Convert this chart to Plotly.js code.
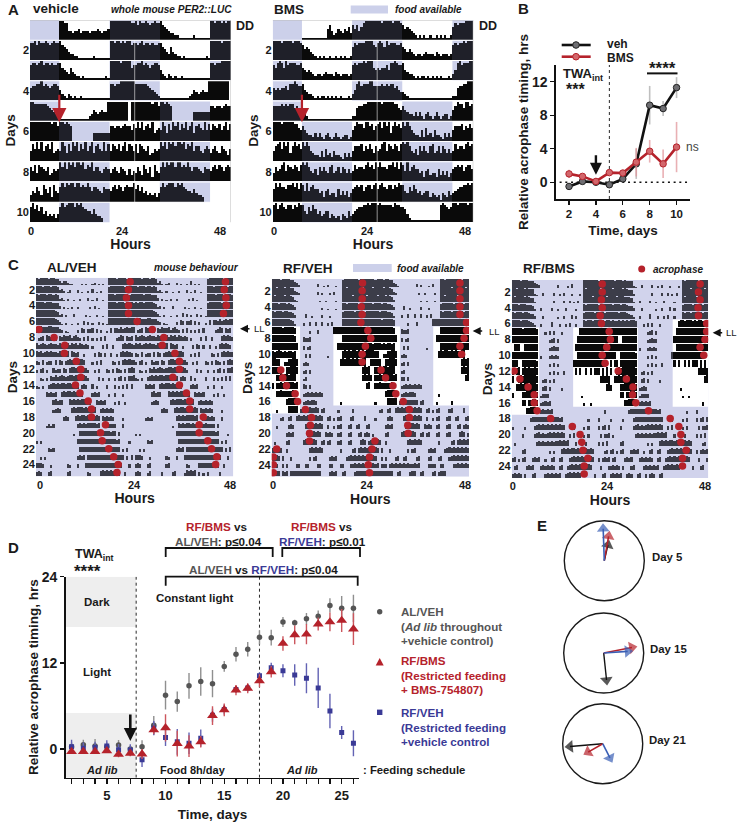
<!DOCTYPE html>
<html><head><meta charset="utf-8">
<script src="https://cdn.plot.ly/plotly-3.0.1.min.js"></script>
<style>html,body{margin:0;padding:0;background:#fff}#g{width:739px;height:822px}</style>
</head><body><div id="g"></div>
<script>
// ---------- Activity per day, one digit per half hour (0 = none, 9 = full row) ----------
const vehDays = [
"00000000000000998844344534443444543445"+"9999999999",
"8897988987898897654332211"+"1111121111111"+"9989989899",
"7887897887877886543643221"+"2111111111121"+"9999989999",
"6778897876788753213212112"+"1111111111111"+"8878899999",
"9988888876543211111111111"+"11123"+"5434544"+"9999999999",
"99999999998997998987"+"0000000000"+"44444444"+"7767767877",
"58696957869456"+"597485979586957947865958"+"5876857958",
"75848765734656"+"979698979989687957754676"+"4675476536",
"35475386472854"+"797989979978797577654766"+"5786875787",
"79685745343424"+"797899979897655464332"+"0000000000000",
"0"];
const bmsDays = [
"00000000000000"+"111111111111"+"574235435463"+"7574689999",
"99998999989998"+"7565432"+"12121121121212112"+"6878889999",
"76898697888778"+"6545432"+"33234333243233323"+"7878898999",
"65656675889877"+"8543321"+"21221212121211121"+"3589788899",
"77778787886754"+"4321111"+"11111111111111111"+"2267788999",
"99998999998865"+"7543324"+"24213421242123312"+"5798869978",
"57896979479786"+"9797543"+"32526342533214242"+"5777857686",
"47568958768758"+"9897546"+"37575478457476464"+"5867768978",
"69797768897969"+"8595786"+"64525634426353524"+"6787857886",
"89689768868798"+"8547586"+"45345524323143253"+"4567788989",
"99898888879887"+"764211111111111111898767"+"9989999899"];
const alVehDays = [
"98999989987"+"4344321"+"00002010023020100"+"9999899998999",
"99989998998"+"3420130"+"00301002040102000"+"8999999989999",
"98999899897"+"2310200"+"10020003010300100"+"9998999999899",
"99998999887"+"3020102"+"00200000203010000"+"9999899989998",
"98998999976"+"2302000"+"30000020100200100"+"8999999899999",
"98999899875"+"3102001"+"00200403020030201"+"9899999989998",
"78877688766"+"4302100"+"00305404450403002"+"0505546457566",
"03450654540"+"5465563"+"56430405030304050"+"0000346505450",
"64565456554"+"6565646"+"56465454030000405"+"0040000565654",
"65645656554"+"6564606"+"54500300004054040"+"0400305656540",
"43050344050"+"5404565"+"66566500030405000"+"0043040565655",
"30450300534"+"4054056"+"65664553003040004"+"3040543040565",
"00320305464"+"5654566"+"56665653000040300"+"3003045040556",
"32030045656"+"5665665"+"56504540050300004"+"0004030405050",
"00000"+"54545"+"00"+"56566565656"+"0000"+"4545"+"0000300"+"4000300000",
"00000000"+"56455"+"000"+"65656566565"+"00"+"54545"+"0000"+"3040030000",
"00000000"+"34540"+"0000"+"565666565656"+"00"+"4545454"+"0000000000",
"0000000000000"+"454"+"000"+"565665656565"+"0"+"545454"+"0000300000",
"00000"+"3434"+"00000000000"+"56565666656"+"00"+"545454"+"000400000",
"000000000000000000300"+"656566565656565455"+"040000000",
"30300000000000000000"+"565656565656665656545"+"0000300",
"000000434000000000000"+"56565665656565656565"+"0304000",
"00303000000000000000"+"45450"+"56565656566565656"+"604050",
"565400030000000430004000"+"5665656665656565"+"56000400",
"4540"+"004500"+"00000"+"450000"+"0000"+"43"+"0000"+"56565656"+"040040000",
"454000350000040000450000365656040304000004000000"];
const rfVehDays = [
"99998999987"+"5420000"+"0000300102000100"+"89999999899999",
"99899989987"+"4310000"+"0000302000103000"+"99899999998999",
"98999989976"+"3200000"+"0000010020000200"+"99999899999989",
"99989998986"+"3000000"+"0000002001000100"+"99899999899999",
"98999899875"+"3000040"+"0200003000200000"+"89999989999899",
"99998999875"+"2000300"+"4004004003040000"+"98999899999899",
"89889798989700"+"0000300040000000"+"998999899989899889",
"9898889989870"+"0054450"+"00000000000000"+"89898998989899",
"98998989899890"+"040340"+"000000000000"+"8989899898989889",
"87898787887800"+"004040"+"0000000200000"+"089898998989899",
"99880044889980"+"034300"+"0000000000000"+"898998989889900",
"88888008899980"+"034040"+"000000000000000000000000"+"8989",
"00889899899900"+"034000"+"00000000000000000000"+"00008989",
"80889899999890"+"054040"+"0000000000000000000000000089",
"00889888889800"+"034545"+"454540"+"0000000000000000000000",
"00000008999980"+"034545"+"540000"+"0000000300000000000000",
"00300000999990"+"456565"+"565045"+"0000003000000400000000",
"00003400450056"+"565656"+"565650"+"0450304500004500000500",
"00300000454000"+"005656"+"565650"+"0400304500045004500045",
"00000004545000"+"000565"+"656500"+"5454004500045000450454",
"03000004500000"+"056565"+"650045"+"0450004500045000056504",
"56565004000000"+"000056"+"565650"+"0000000400000450565656",
"65650500040000"+"000040"+"450000"+"0045450000456565656565",
"56500404000045"+"004500"+"004500"+"0045000450004565656565",
"56560545056565"+"656565"+"565600"+"0045450045000045656565",
"56565656565004"+"500004"+"550045"+"0000450456500000000000"];
const rfBmsDays = [
"99998999877"+"5430000"+"0000300002040000"+"09999999899999",
"99899989887"+"2100300"+"0030020300020002"+"09899999989999",
"98999989866"+"2000000"+"0030000300302030"+"09999899999989",
"99989998875"+"2003000"+"0300200030000200"+"09899999899999",
"98999899865"+"3000300"+"0000200300040300"+"08999989999899",
"99998999854"+"2003000"+"0500030030400300"+"09899899999899",
"89889798989970"+"00304040"+"00300000"+"000899899989899889",
"99898998988980"+"00003450"+"40000000"+"008989989898998989",
"08890089899980"+"00003454"+"40000000"+"089898989898989989",
"89888998889880"+"30003434"+"30000000"+"008989898989899899",
"89900888999970"+"00003040"+"30000000"+"898989898989889900",
"80890898988980"+"00003040"+"30040000"+"080800808088808090",
"80089899999980"+"03403040"+"00000000"+"000000000000089898",
"00889899899980"+"04504000"+"00300000"+"000000000000000089",
"60000889999980"+"34540000"+"00000000"+"000030000000000000",
"00000880889980"+"34545000"+"00000000"+"000003003000000000",
"00000008899980"+"45454500"+"00000000"+"000000000000000400",
"00000000045656"+"56565656"+"54500000"+"000000030000400000",
"30000030000456"+"56565656"+"56550004"+"500003040000404505",
"00000400000456"+"45456565"+"65650040"+"500403040000040445",
"03000000000045"+"45454545"+"56565600"+"040030400000404050",
"00000450000000"+"00003030"+"00565656"+"656565656500000340",
"45030450004545"+"00300450"+"04500045"+"656565656500404545",
"04500004545000"+"45454540"+"04500456"+"565656565000040004",
"45454040004500"+"00454545"+"45004565"+"656500000040004500",
"45454500454004"+"50040454"+"00450000"+"000000000000000000"];

// ---------- Food / light windows: [from hour, to hour, first row, last row] ----------
const vehFoodWindows = [[0,7,1,5],[19,31,1,4],[43,48,1,3],[31,43,5,9],[7,19,6,10]];
const bmsFoodWindows = [[0,7,1,5],[19,31,1,4],[43,48,1,3],[31,43,5,9],[7,19,6,10]];
const rfVehWhiteWindows = [[0,6.9,7,17],[15,31.2,7,16],[39.3,48,7,16]];
const rfBmsWhiteWindows = [[0,6.7,7,17],[15,30.8,7,16],[39.3,48,6,16]];

// ---------- Acrophase (hours) per row, left and right half ----------
const alVehAcroLeft  = [22.9,22.5,22,22.5,22.5,24.6,0.7,4.4,7,6.9,9.8,10.9,10.9,9.6,10.7,12.7,13.5,13.5,16.9,15.7,16.1,17.7,18.9,20,19.7];
const alVehAcroRight = [46.1,45.8,46.2,46.3,45.6,null,28.3,31.1,30.7,33.8,34.9,34.9,33.3,34.9,36.6,37.4,37.4,40.7,39.7,39.7,41.8,42.7,44,43.7,null];
const rfVehAcroLeft  = [22.1,22,22,21.8,22,21.7,23.4,24.1,22.8,22,22,2.2,2.7,3.6,5.7,6.3,8.2,9.7,9.4,9.2,9.2,1.2,0.4,0.4,0.4];
const rfVehAcroRight = [45.8,45.8,45.8,45.8,45.8,47.4,47.4,46.8,45.8,46.2,null,26.6,27.7,29.5,30.2,32,33.5,33.5,33.1,33.2,25.1,24.4,23.8,23.5,23.8];
const rfBmsAcroLeft  = [22.1,22.1,21.9,22.1,21.6,21.9,23.8,24.1,23.2,22.1,22.8,0.6,2,4,5.5,5.5,6.2,9.5,14.8,16.7,17.1,17.4,18.6,17.7,17.7];
const rfBmsAcroRight = [46,45.6,46,45.5,45.6,47.6,47.6,47.2,46,46.9,null,26,28,29.6,29.5,30.3,33.4,38.7,40.8,41.3,41.3,42.6,41.7,41.7,null];

// ---------- Panel B ----------
const bDays   = [2,3,4,5,6,7,8,9,10];
const bVeh    = [-0.5,0.1,0,-0.3,0.4,2.2,9.2,8.8,11.3];
const bVehErr = [0.3,0.3,0.2,0.3,0.3,1.8,2.3,0.9,1.25];
const bBms    = [1,0.7,0.1,1.15,1.1,2.4,3.7,2.2,4.2];
const bBmsErr = [0.5,0.3,0.2,0.3,0.3,1.7,1.35,1.7,3];

// ---------- Panel D ----------
const dDays   = [2,3,4,5,6,7,8,9,10,11,12,13,14,15,16,17,18,19,20,21,22,23,24,25,26];
const dTickDays = [5,10,15,20,25];
const alVeh    = [0.3,0.6,0.4,0.3,0.55,0,0.3,3.3,7.5,6.6,8.8,9.4,9.1,11.5,13.2,13.9,15.55,15.5,17.7,17.6,18.15,18.5,20,19.6,19.6];
const alVehErr = [0.6,0.7,1,0.6,0.7,0.5,0.9,1.3,2,1.4,1.8,2,1.9,0.75,1,1,1,1.1,0.7,0.4,0.8,0.8,1,1.7,1.9];
const rfVeh    = [0.3,0.1,0.2,0.4,-0.1,-0.15,-1.5,2.9,1.6,1,0.8,1.5,4.7,5.5,8.3,8.5,10.2,11.3,10.9,10.3,9.85,8.5,5.3,2.3,0.8];
const rfVehErr = [1,0.8,0.8,0.8,0.8,0.8,1,1,1.2,1.8,1.5,1.2,0.9,0.7,0.5,0.5,0.5,0.7,0.9,1.5,2.1,2.8,2.4,0.9,1.8];
const rfBms    = [-0.35,-0.35,-0.35,-0.25,-0.75,-0.6,-0.7,2.65,2.95,0.75,0.4,1,4.65,5.45,8.2,8.45,9.5,10.75,14.7,15.9,16,17.4,17.7,17.9,16.7];
const rfBmsErr = [0.3,0.3,0.3,0.3,0.4,0.4,0.7,0.6,1.9,1.8,1.5,0.8,1.3,0.9,0.7,0.7,0.9,0.8,1,1.3,1.4,0.9,1.3,1.6,2.2];

// ---------- Panel E: [angle clockwise from north, length] ----------
const day5Vectors  = {al:[13,0.40],  rfBms:[10,0.62], rfVeh:[-2,0.80]};
const day15Vectors = {al:[174,0.68], rfBms:[79,0.72], rfVeh:[86,0.60]};
const day21Vectors = {al:[265,0.82], rfBms:[240,0.42],rfVeh:[153,0.40]};

// ---------- Styling ----------
const W=739,H=822, FONT='"Liberation Sans", Arial, sans-serif';
const RED='#b5222b', BLUE='#3a3a96', GREY='#555555', INK='#1a1a1a';
const LAV='#ccd0ea', LAVC='#d1d3ec';
const X=p=>p/W, Y=p=>1-p/H;
const dom=(a,b)=>[a/W,b/W], domY=(t,b)=>[1-b/H,1-t/H];
const traces=[], shapes=[], annotations=[], layout={};
const note=(text,x,y,o={})=>annotations.push(Object.assign({
  text,x:X(x),y:Y(y),xref:'paper',yref:'paper',showarrow:false,xanchor:'left',yanchor:'middle',
  font:{family:FONT,size:o.size||12,color:o.color||INK,weight:o.weight||700},
},o.extra||{}));
const pbox=(x0,y0,x1,y1,fill)=>shapes.push({type:'rect',xref:'paper',yref:'paper',x0:X(x0),x1:X(x1),y0:Y(y0),y1:Y(y1),fillcolor:fill,line:{width:0},layer:'below'});
const pline=(x0,y0,x1,y1,color,width)=>shapes.push({type:'line',xref:'paper',yref:'paper',x0:X(x0),x1:X(x1),y0:Y(y0),y1:Y(y1),line:{color,width}});
const inside=(w,row,h)=>w.some(a=>row>=a[2]&&row<=a[3]&&h>=a[0]&&h<a[1]);
const linearScale=[0,.11,.22,.33,.44,.55,.66,.77,.88,1];
const compactScale=[0,.14,.26,.4,.55,.68,.78,.85,.92,1];

function actogram(p){
  const n=p.n, xs=[],ys=[],bs=[],cs=[];
  for(let r=1;r<=n;r++) for(let half=0;half<2;half++){
    const s=(p.days[r-1+half]||'').padEnd(48,'0').slice(0,48);
    for(let i=0;i<48;i++){
      const v=+s[i]; if(!v) continue;
      const h=24*half+(i+.5)/2;
      xs.push(h); bs.push(r-p.gap); ys.push(-(1-p.gap*2)*p.scale[v]);
      const tinted = p.white ? !inside(p.white,r,h) : inside(p.food,r,h);
      cs.push(tinted?p.dark:'#0a0a0a');
    }
  }
  const sx=p.id===1?'':p.id;
  traces.push({type:'bar',x:xs,y:ys,base:bs,width:p.bw,marker:{color:cs,line:{width:0}},xaxis:'x'+sx,yaxis:'y'+sx,hoverinfo:'skip'});
  const xa={domain:dom(p.x0,p.x1),range:[0,48],anchor:'y'+sx,showgrid:false,zeroline:false,showline:false,ticks:'',
    tickmode:'array',tickvals:p.xticks,ticktext:['0','24','48'],tickangle:0,fixedrange:true,
    tickfont:{family:FONT,size:11,color:INK,weight:700},
    title:{text:'Hours',standoff:p.hstand,font:{family:FONT,size:14,color:INK,weight:700}}};
  const tv=[],tt=[]; for(let r=2;r<=n;r+=2){tv.push(r-.5);tt.push(String(r));}
  const ya={domain:domY(p.y0,p.y1),range:[n,0],anchor:'x'+sx,showgrid:false,zeroline:false,showline:false,ticks:'',
    tickmode:'array',tickvals:tv,ticktext:tt,fixedrange:true,
    tickfont:{family:FONT,size:p.tick||11,color:INK,weight:700}};
  if(p.daysTitle) ya.title={text:'Days',standoff:p.dstand,font:{family:FONT,size:13.5,color:INK,weight:700}};
  layout['xaxis'+sx]=xa; layout['yaxis'+sx]=ya;
  const xr='x'+sx, yr='y'+sx;
  if(p.white){
    shapes.push({type:'rect',xref:xr,yref:yr,x0:0,x1:48,y0:0,y1:n,fillcolor:LAVC,line:{width:0},layer:'below'});
    p.white.forEach(w=>shapes.push({type:'rect',xref:xr,yref:yr,x0:w[0],x1:w[1],y0:w[2]-1,y1:w[3],fillcolor:'#ffffff',line:{width:0},layer:'below'}));
  } else {
    p.food.forEach(w=>shapes.push({type:'rect',xref:xr,yref:yr,x0:w[0],x1:w[1],y0:w[2]-1,y1:w[3],fillcolor:LAV,line:{width:0},layer:'below'}));
    for(let r=1;r<n;r++) shapes.push({type:'line',xref:xr,yref:yr,x0:0,x1:48,y0:r,y1:r,line:{color:'#ffffff',width:1}});
    shapes.push({type:'line',xref:xr,yref:yr,x0:25,x1:25,y0:1,y1:n,line:{color:'rgba(255,255,255,.7)',width:0.8}});
    shapes.push({type:'line',xref:xr,yref:yr,x0:0,x1:48,y0:0,y1:0,line:{color:'#bbbbbb',width:1}});
    shapes.push({type:'line',xref:xr,yref:yr,x0:48,x1:48,y0:0,y1:n,line:{color:'#bbbbbb',width:1}});
  }
  if(p.acro){
    [p.acro[0],p.acro[1]].forEach(a=>{
      const x=[],y=[]; a.forEach((v,i)=>{if(v!==null){x.push(v);y.push(i+.5);}});
      traces.push({type:'scatter',mode:'markers',x,y,marker:{color:RED,size:7.5,line:{width:0}},xaxis:xr,yaxis:yr,hoverinfo:'skip'});
    });
  }
}
const tpos=(a,b,labels)=>labels.map(l=>(l-a)/(b-a)*48);
actogram({id:1,days:vehDays,n:10,x0:30,x1:231,y0:20,y1:222.5,food:vehFoodWindows,dark:'#1f2029',gap:.03,scale:linearScale,bw:.5,xticks:tpos(30,231,[31,122,220]),hstand:2});
actogram({id:2,days:bmsDays,n:10,x0:272.7,x1:473.3,y0:20,y1:222.5,food:bmsFoodWindows,dark:'#1f2029',gap:.03,scale:linearScale,bw:.5,xticks:tpos(272.7,473.3,[274,367,465]),hstand:2});
actogram({id:4,days:alVehDays,n:25,x0:36,x1:233.3,y0:277.8,y1:476.5,white:[[0,0,0,0]],dark:'#3c3d49',gap:.04,scale:compactScale,bw:.5,xticks:tpos(36,233.3,[40,134,230]),acro:[alVehAcroLeft,alVehAcroRight],daysTitle:true,dstand:2,hstand:3});
actogram({id:5,days:rfVehDays,n:25,x0:271.7,x1:469,y0:279,y1:476.7,white:rfVehWhiteWindows,dark:'#3c3d49',gap:.04,scale:compactScale,bw:.5,xticks:tpos(271.7,469,[273,366.7,465]),acro:[rfVehAcroLeft,rfVehAcroRight],daysTitle:true,dstand:2,hstand:3});
actogram({id:6,days:rfBmsDays,n:25,x0:511.7,x1:708.3,y0:280,y1:478,white:rfBmsWhiteWindows,dark:'#3c3d49',gap:.04,scale:compactScale,bw:.5,xticks:tpos(511.7,708.3,[512.7,607,705]),acro:[rfBmsAcroLeft,rfBmsAcroRight],daysTitle:true,dstand:2,hstand:3});

// Panel B chart
const baseAxis={showgrid:false,zeroline:false,showline:true,linecolor:'#111',linewidth:1.6,ticks:'outside',ticklen:4,tickwidth:1.4,tickcolor:'#111',fixedrange:true};
layout.xaxis3=Object.assign({},baseAxis,{domain:dom(556,690),range:[1.03,11],anchor:'y3',tickvals:[2,4,6,8,10],tickfont:{family:FONT,size:11.5,color:INK,weight:700},
  title:{text:'Time, days',standoff:6,font:{family:FONT,size:13.5,color:INK,weight:700}}});
layout.yaxis3=Object.assign({},baseAxis,{domain:domY(65,199),range:[-2,14],anchor:'x3',tickvals:[0,4,8,12],tickfont:{family:FONT,size:14,color:INK,weight:700},
  title:{text:'Relative acrophase timing, hrs',standoff:0,font:{family:FONT,size:13.5,color:INK,weight:700}}});
traces.push({type:'scatter',mode:'lines+markers',x:bDays,y:bVeh,error_y:{type:'data',array:bVehErr,color:'rgba(170,170,170,.75)',thickness:1.6,width:0},line:{color:'#111',width:2.6},marker:{color:'#6e6e72',size:6.5,line:{color:'#222',width:1}},xaxis:'x3',yaxis:'y3',hoverinfo:'skip'});
traces.push({type:'scatter',mode:'lines+markers',x:bDays,y:bBms,error_y:{type:'data',array:bBmsErr,color:'rgba(226,150,155,.75)',thickness:1.6,width:0},line:{color:RED,width:2.6},marker:{color:'#d2666b',size:6.5,line:{color:RED,width:1}},xaxis:'x3',yaxis:'y3',hoverinfo:'skip'});
shapes.push({type:'line',xref:'x3',yref:'y3',x0:1.3,x1:11,y0:0,y1:0,line:{color:'#111',width:1.7,dash:'2px,3.7px'},layer:'below'});
shapes.push({type:'line',xref:'x3',yref:'y3',x0:5,x1:5,y0:-2,y1:14,line:{color:'#111',width:0.9,dash:'dot'},layer:'below'});
shapes.push({type:'line',xref:'x3',yref:'y3',x0:7.8,x1:10.07,y0:13,y1:13,line:{color:'#111',width:2}});
annotations.push({xref:'x3',yref:'y3',x:4,y:0.9,ax:0,ay:-21,axref:'pixel',ayref:'pixel',text:'',showarrow:true,arrowhead:2,arrowsize:1,arrowwidth:2.4,arrowcolor:'#111'});
pline(561.7,45,590.7,45,'#111',2.6); pline(561.7,56.7,590.7,56.7,RED,2.6);
shapes.push({type:'circle',xref:'paper',yref:'paper',x0:X(572.7),x1:X(579.3),y0:Y(48.3),y1:Y(41.7),fillcolor:'#6e6e72',line:{color:'#222',width:1}});
shapes.push({type:'circle',xref:'paper',yref:'paper',x0:X(572.7),x1:X(579.3),y0:Y(60),y1:Y(53.4),fillcolor:'#d2666b',line:{color:RED,width:1}});
note('veh',605.3,44.3,{size:12}); note('BMS',605.3,57.7,{size:12});
note('TWA<sub>int</sub>',561,74,{size:13}); note('***',564,89,{size:16});
note('****',662,69,{size:17,extra:{xanchor:'center'}}); note('ns',684,147,{size:12,color:'#444',weight:400});

// Panel D chart
layout.xaxis7=Object.assign({},baseAxis,{domain:dom(65.7,359.3),range:[1.5,26.5],anchor:'y7',tickmode:'array',tickvals:dTickDays,
  minor:{tickmode:'array',tickvals:dDays,ticks:'outside',ticklen:5,tickwidth:1.4,tickcolor:'#111'},
  ticklen:5,tickangle:0,tickfont:{family:FONT,size:13,color:INK,weight:700},
  title:{text:'Time, days',standoff:7,font:{family:FONT,size:13.5,color:INK,weight:700}}});
layout.yaxis7=Object.assign({},baseAxis,{domain:domY(576.7,777.7),range:[-4,24],anchor:'x7',tickvals:[0,12,24],tickfont:{family:FONT,size:14,color:INK,weight:700},
  title:{text:'Relative acrophase timing, hrs',standoff:0,font:{family:FONT,size:13.5,color:INK,weight:700}}});
shapes.push({type:'rect',xref:'x7',yref:'y7',x0:1.5,x1:7.5,y0:17,y1:24,fillcolor:'#eeeeee',line:{width:0},layer:'below'});
shapes.push({type:'rect',xref:'x7',yref:'y7',x0:1.5,x1:7.5,y0:-4,y1:5,fillcolor:'#eeeeee',line:{width:0},layer:'below'});
[7.5,18].forEach(v=>shapes.push({type:'line',xref:'x7',yref:'y7',x0:v,x1:v,y0:-4,y1:24,line:{color:'#111',width:0.9,dash:'dot'},layer:'below'}));
const dSeries=(y,err,color,ecol,symbol,size)=>traces.push({type:'scatter',mode:'markers',x:dDays,y,error_y:{type:'data',array:err,color:ecol,thickness:1.4,width:0},marker:{color,symbol,size,line:{width:0}},xaxis:'x7',yaxis:'y7',hoverinfo:'skip'});
dSeries(alVeh,alVehErr,GREY,'#8f8f8f','circle',5.5);
dSeries(rfVeh,rfVehErr,BLUE,'#6363b4','square',5);
dSeries(rfBms,rfBmsErr,RED,'#cc565d','triangle-up',9.5);
annotations.push({xref:'x7',yref:'y7',x:7,y:1.1,ax:0,ay:-28,axref:'pixel',ayref:'pixel',text:'',showarrow:true,arrowhead:2,arrowsize:1,arrowwidth:2.6,arrowcolor:'#111'});
// brackets
const bracket=(x0,x1,y,d)=>shapes.push({type:'path',xref:'paper',yref:'paper',path:`M${X(x0)},${Y(y+d)} L${X(x0)},${Y(y)} L${X(x1)},${Y(y)} L${X(x1)},${Y(y+d)}`,line:{color:'#111',width:1.8}});
bracket(165.7,272.7,548,9); bracket(282.3,360,548,9); bracket(165.7,357.7,576.7,9);
const S=(c,t)=>`<span style="color:${c}">${t}</span>`;
const ctr={xanchor:'center'};
note(S(RED,'RF/BMS')+' vs',217,526.7,{size:11.7,extra:ctr});
note(S(GREY,'AL/VEH')+': p≤0.04',218,541,{size:11.7,extra:ctr});
note(S(RED,'RF/BMS')+' vs',322,526.7,{size:11.7,extra:ctr});
note(S(BLUE,'RF/VEH')+': p≤0.01',322,541,{size:11.7,extra:ctr});
note(S(GREY,'AL/VEH')+' vs '+S(BLUE,'RF/VEH')+': p≤0.04',263,569,{size:11.7,extra:ctr});
note('Dark',97,601.7,{size:11.5,extra:ctr}); note('Light',97,672,{size:11.5,extra:ctr});
note('Constant light',194,598,{size:11.5,extra:ctr});
note('<i>Ad lib</i>',102,770,{size:11,extra:ctr}); note('Food 8h/day',193,770,{size:11,extra:ctr});
note('<i>Ad lib</i>',302,770,{size:11,extra:ctr}); note(': Feeding schedule',361,770,{size:11.3});
note('TWA<sub>int</sub>',73,555,{size:12.5}); note('****',72,571,{size:17});
// D legend keys
shapes.push({type:'circle',xref:'paper',yref:'paper',x0:X(377),x1:X(382.4),y0:Y(614.4),y1:Y(609),fillcolor:GREY,line:{width:0}});
shapes.push({type:'path',xref:'paper',yref:'paper',path:`M${X(375.7)},${Y(665.5)} L${X(383.7)},${Y(665.5)} L${X(379.7)},${Y(658)} Z`,fillcolor:RED,line:{width:0}});
shapes.push({type:'rect',xref:'paper',yref:'paper',x0:X(377),x1:X(382.4),y0:Y(715),y1:Y(709.6),fillcolor:BLUE,line:{width:0}});
const lg=(t,y,c)=>note(t,399,y,{size:11.6,color:c});
lg('AL/VEH',611,GREY); lg('(<i>Ad lib</i> throughout',626,GREY); lg('+vehicle control)',640,GREY);
lg('RF/BMS',660.7,RED); lg('(Restricted feeding',675,RED); lg('+ BMS-754807)',689,RED);
lg('RF/VEH',712,BLUE); lg('(Restricted feeding',727,BLUE); lg('+vehicle control',741,BLUE);

// Panel E polar plots
const polarDefs=[[604.3,560.7,day5Vectors,'Day 5',650,556.7],[603.7,653,day15Vectors,'Day 15',648,649],[602.7,743.7,day21Vectors,'Day 21',647,740]];
const vecColors={rfVeh:'#3a5fb5',rfBms:RED,al:'#111111'};
polarDefs.forEach((d,i)=>{
  const key='polar'+(i?i+1:'');
  layout[key]={domain:{x:dom(d[0]-40,d[0]+40),y:domY(d[1]-40,d[1]+40)},bgcolor:'rgba(0,0,0,0)',
    radialaxis:{visible:false,range:[0,1]},
    angularaxis:{rotation:90,direction:'clockwise',showgrid:false,ticks:'',showticklabels:false,showline:true,linecolor:'#1a1a1a',linewidth:1.4}};
  ['al','rfBms','rfVeh'].forEach(k=>{
    const v=d[2][k];
    traces.push({type:'scatterpolar',subplot:key,mode:'lines+markers',theta:[0,v[0]],r:[0,v[1]],thetaunit:'degrees',
      line:{color:vecColors[k],width:k==='al'?1.4:1.6},
      marker:{size:[0,11],symbol:'triangle-up',angle:[0,v[0]],color:vecColors[k],line:{width:0}},hoverinfo:'skip'});
  });
  note(d[3],d[4],d[5],{size:11.4});
});

// Panel text
note('A',6,9,{size:15}); note('vehicle',30.7,8.5,{size:13.5});
note('<i>whole mouse PER2::LUC</i>',109,9.5,{size:10.1}); note('DD',234,26,{size:12.5});
note('BMS',271.7,9,{size:13.5}); pbox(350.7,5.5,388,13.5,LAV);
note('<i>food available</i>',392.7,9.5,{size:10}); note('DD',477,26,{size:12.5});
note('B',516,8.5,{size:15});
note('Days',10.7,130.7,{size:13.5,extra:{xanchor:'center',textangle:-90}});
note('Days',254,130.7,{size:13.5,extra:{xanchor:'center',textangle:-90}});
note('C',6,264,{size:15}); note('AL/VEH',45,267,{size:13.5});
note('<i>mouse behaviour</i>',151.7,267,{size:10.1});
note('RF/VEH',280.7,268,{size:13.5}); pbox(353,264,391.7,272,LAV);
note('<i>food available</i>',394.7,268,{size:10});
note('RF/BMS',520.7,268.7,{size:13.5});
shapes.push({type:'circle',xref:'paper',yref:'paper',x0:X(638.2),x1:X(645.2),y0:Y(272.5),y1:Y(265.5),fillcolor:RED,line:{width:0}});
note('<i>acrophase</i>',651,269,{size:10});
note('D',6,547.7,{size:15}); note('E',535,525,{size:15});
[[240,328.7,251.5],[472.7,331,487],[712.7,332.7,723.5]].forEach(a=>{
  annotations.push({xref:'paper',yref:'paper',x:X(a[0]),y:Y(a[1]),ax:11,ay:0,axref:'pixel',ayref:'pixel',text:'',showarrow:true,arrowhead:2,arrowsize:1,arrowwidth:1.6,arrowcolor:'#111'});
  note('LL',a[2],a[1],{size:9.5,weight:400});
});
// red arrows of panel A
annotations.push({xref:'x',yref:'y',x:7,y:5.05,ax:0,ay:-29,axref:'pixel',ayref:'pixel',text:'',showarrow:true,arrowhead:2,arrowsize:1.3,arrowwidth:2.2,arrowcolor:RED});
annotations.push({xref:'x2',yref:'y2',x:7,y:5.05,ax:0,ay:-29,axref:'pixel',ayref:'pixel',text:'',showarrow:true,arrowhead:2,arrowsize:1.3,arrowwidth:2.2,arrowcolor:RED});

Object.assign(layout,{width:W,height:H,margin:{l:0,r:0,t:0,b:0,pad:0},autosize:false,paper_bgcolor:'#fff',plot_bgcolor:'rgba(0,0,0,0)',
  showlegend:false,barmode:'overlay',bargap:0,shapes,annotations,font:{family:FONT,color:INK}});
Plotly.newPlot('g',traces,layout,{staticPlot:true,displayModeBar:false});
</script></body></html>
